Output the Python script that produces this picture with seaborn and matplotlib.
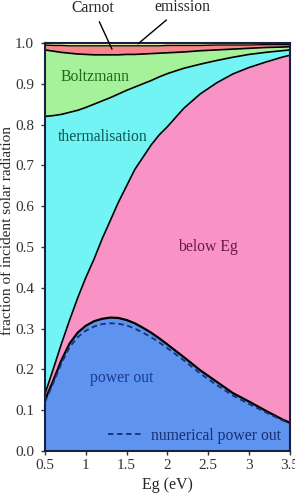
import matplotlib
matplotlib.use("Agg")
import matplotlib.pyplot as plt
import seaborn as sns

# band gap grid (eV)
eg = [0.5, 0.6, 0.7, 0.8, 0.9, 1.0, 1.1, 1.2, 1.3, 1.4, 1.5, 1.6, 1.7, 1.8,
      1.9, 2.0, 2.2, 2.4, 2.6, 2.8, 3.0, 3.2, 3.4, 3.5]

# cumulative boundaries (fraction of incident solar radiation)
power_out = [0.125, 0.172, 0.222, 0.263, 0.29, 0.307, 0.318, 0.324, 0.327, 0.326,
             0.321, 0.313, 0.302, 0.29, 0.276, 0.261, 0.23, 0.198, 0.17, 0.142,
             0.121, 0.099, 0.078, 0.069]
numerical_power_out = [0.12, 0.166, 0.214, 0.254, 0.279, 0.295, 0.305, 0.311, 0.313,
                       0.312, 0.308, 0.300, 0.290, 0.279, 0.266, 0.252, 0.222, 0.190,
                       0.162, 0.136, 0.115, 0.095, 0.076, 0.067]
below_eg_top = [0.14, 0.2, 0.262, 0.32, 0.375, 0.425, 0.47, 0.52, 0.565, 0.61, 0.65,
                0.69, 0.72, 0.75, 0.775, 0.795, 0.84, 0.875, 0.902, 0.924, 0.94,
                0.953, 0.965, 0.97]
thermal_top = [0.82, 0.822, 0.825, 0.83, 0.835, 0.842, 0.85, 0.858, 0.866, 0.875,
               0.884, 0.892, 0.9, 0.908, 0.917, 0.925, 0.938, 0.948, 0.957, 0.965,
               0.972, 0.977, 0.981, 0.983]
boltz_top = [0.983, 0.98, 0.977, 0.975, 0.973, 0.972, 0.971, 0.971, 0.971, 0.971,
             0.972, 0.972, 0.973, 0.974, 0.975, 0.976, 0.978, 0.981, 0.983, 0.985,
             0.987, 0.989, 0.99, 0.991]
carnot_top = [0.995, 0.994, 0.994, 0.993, 0.993, 0.993, 0.993, 0.993, 0.993, 0.993,
              0.993, 0.993, 0.993, 0.993, 0.993, 0.994, 0.994, 0.994, 0.995, 0.995,
              0.995, 0.996, 0.996, 0.996]

sns.set_theme(style="ticks")
plt.rcParams['font.family'] = ['Liberation Serif', 'DejaVu Serif']

fig = plt.figure(figsize=(2.95, 4.93), dpi=100)
ax = fig.add_axes([0.1525, 0.0852, 0.8305, 0.8276])

# filled regions
ax.fill_between(eg, 0, power_out, color='#5f93f0', lw=0)
ax.fill_between(eg, power_out, below_eg_top, color='#f993c6', lw=0)
ax.fill_between(eg, below_eg_top, thermal_top, color='#72f4f4', lw=0)
ax.fill_between(eg, thermal_top, boltz_top, color='#a6f29a', lw=0)
ax.fill_between(eg, boltz_top, carnot_top, color='#f4878a', lw=0)
ax.fill_between(eg, carnot_top, 1.0, color='#f5f0a0', lw=0)

# boundary lines
for ys, lw in [(power_out, 1.6), (below_eg_top, 1.2), (thermal_top, 1.2),
               (boltz_top, 1.2), (carnot_top, 1.0)]:
    sns.lineplot(x=eg, y=ys, ax=ax, color='black', lw=lw)

sns.lineplot(x=eg, y=numerical_power_out, ax=ax, color='#1a2f6e', lw=1.3,
             linestyle=(0, (3, 2)), label='numerical power out')

ax.set_xlim(0.5, 3.5)
ax.set_ylim(0, 1.0)
ax.set_xticks([0.5, 1, 1.5, 2, 2.5, 3, 3.5])
ax.set_xticklabels(['0.5', '1', '1.5', '2', '2.5', '3', '3.5'])
ax.set_yticks([i / 10 for i in range(11)])
ax.tick_params(length=3, width=1, colors='#333333')
ax.tick_params(axis='x', labelsize=11, pad=3)
ax.tick_params(axis='y', labelsize=11, pad=5)
ax.set_xlabel('Eg (eV)', fontsize=11.5)
ax.set_ylabel('fraction of incident solar radiation', fontsize=11)
ax.xaxis.set_label_coords(0.5, -0.063)
ax.yaxis.set_label_coords(-0.127, 0.54)
for s in ax.spines.values():
    s.set_linewidth(1.5)
    s.set_color('#1a2040')

# region labels
ax.text(1.11, 0.917, 'Boltzmann', color='#1e6b1e', fontsize=11.3, ha='center', va='center')
ax.text(1.21, 0.77, 'thermalisation', color='#0e5555', fontsize=11.3, ha='center', va='center')
ax.text(2.5, 0.5, 'below Eg', color='#6a1a4a', fontsize=11.3, ha='center', va='center')
ax.text(1.44, 0.179, 'power out', color='#1a3c8c', fontsize=11.3, ha='center', va='center')

leg = ax.legend(loc='lower right', bbox_to_anchor=(1.0, -0.005), frameon=False,
                fontsize=11.3, handlelength=2.3, handletextpad=0.4, borderaxespad=0.2)
for t in leg.get_texts():
    t.set_color('#1a2f6e')

# labels above the axes
ax.annotate('Carnot', xy=(1.32, 0.985), xycoords='data',
            xytext=(0.315, 0.984), textcoords='figure fraction',
            fontsize=11.3, ha='center', va='center',
            arrowprops=dict(arrowstyle='-', color='black', lw=1, shrinkA=2, shrinkB=0))
ax.annotate('emission', xy=(1.64, 0.998), xycoords='data',
            xytext=(0.617, 0.986), textcoords='figure fraction',
            fontsize=11.3, ha='center', va='center',
            arrowprops=dict(arrowstyle='-', color='black', lw=1, shrinkA=2, shrinkB=0))

fig.savefig('out.png', dpi=100)
